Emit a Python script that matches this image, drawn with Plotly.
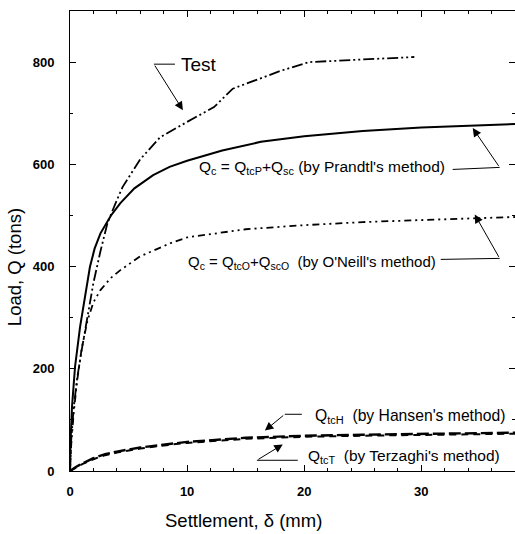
import plotly.graph_objects as go

# Load-settlement curves (settlement in mm, load in tons)
test_x = [0, 0.1, 0.3, 0.6, 1.0, 1.5, 2.0, 2.6, 3.2, 4.0, 4.5, 6.0, 7.7, 10, 12.3, 13.9, 16.3, 18, 20.4, 25, 29.4]
test_q = [0, 60, 120, 180, 237, 305, 368, 430, 485, 530, 556, 610, 653, 683, 712, 748, 768, 783, 800, 805, 810]

prandtl_x = [0, 0.05, 0.17, 0.43, 0.86, 1.3, 1.7, 2.1, 2.6, 3.5, 4.3, 5.5, 7.1, 8.5, 10, 13, 16.3, 20, 25, 30, 38]
prandtl_q = [0, 60, 125, 204, 282, 345, 399, 435, 465, 500, 524, 553, 579, 595, 607, 627, 644, 655, 665, 672, 679]

oneill_x = [0, 0.1, 0.3, 0.6, 1.0, 1.5, 2.0, 2.6, 3.5, 4.3, 6, 8.6, 10, 15, 20, 25, 30, 38]
oneill_q = [0, 50, 110, 175, 240, 295, 330, 354, 378, 393, 420, 446, 457, 473, 481, 487, 491, 497]

hansen_x = [0, 0.5, 1, 2, 3, 4, 6, 8, 10, 15, 20, 25, 30, 38]
hansen_q = [0, 8, 14, 25, 33, 38, 46, 52, 57, 65, 69, 71, 73, 75]

terzaghi_x = [0, 0.5, 1, 2, 3, 4, 6, 8, 10, 15, 20, 25, 30, 38]
terzaghi_q = [0, 7, 13, 23, 31, 36, 44, 50, 55, 63, 67, 69, 71, 73]

x_ticks = [0, 10, 20, 30]
y_ticks = [0, 200, 400, 600, 800]

FONT = "Liberation Sans, Arial, sans-serif"
INK = "black"

fig = go.Figure()

def curve(x, y, dash, width):
    fig.add_trace(go.Scatter(x=x, y=y, mode="lines",
                             line=dict(color=INK, width=width, dash=dash),
                             showlegend=False, hoverinfo="skip"))

curve(test_x, test_q, "11px,3px,2px,3px,2px,3px", 1.8)
curve(prandtl_x, prandtl_q, "solid", 2.0)
curve(oneill_x, oneill_q, "7px,4px,2px,4px,2px,4px", 1.8)
curve(hansen_x, hansen_q, "12px,4px", 2.4)
curve(terzaghi_x, terzaghi_q, "7px,5px", 2.0)

# invisible trace carrying the right-hand tick axis
fig.add_trace(go.Scatter(x=[0], y=[0], yaxis="y2", mode="markers",
                         marker=dict(opacity=0), showlegend=False, hoverinfo="skip"))

# leader lines from labels to curves
leaders = [
    [(8.96, 796), (7.17, 796)],
    [(32.68, 590), (36.69, 594)],
    [(31.66, 414), (36.69, 416)],
    [(19.8, 111), (18.34, 111)],
    [(19.45, 21), (15.96, 21)],
]
for pts in leaders:
    path = "M " + " L ".join(f"{px},{py}" for px, py in pts)
    fig.add_shape(type="path", path=path, xref="x", yref="y",
                  line=dict(color=INK, width=1))

# arrows: (tip x, tip y, tail x, tail y)
arrows = [
    (9.64, 706, 7.17, 796),
    (34.39, 671, 36.69, 594),
    (34.56, 502, 36.69, 416),
    (16.64, 79, 18.34, 111),
    (18.17, 52, 15.96, 21),
]
for tx, ty, sx, sy in arrows:
    fig.add_annotation(x=tx, y=ty, ax=sx, ay=sy, xref="x", yref="y",
                       axref="x", ayref="y", text="", showarrow=True,
                       arrowhead=2, arrowsize=1.7, arrowwidth=1, arrowcolor=INK)

labels = [
    (9.35, 795, "Test", 19),
    (10.84, 594, "Q<sub>c</sub> = Q<sub>tcP</sub>+Q<sub>sc</sub> (by Prandtl's method)", 15.5),
    (9.9, 408, "Q<sub>c</sub> = Q<sub>tcO</sub>+Q<sub>scO</sub>  (by O'Neill's method)", 15),
    (20.73, 107, "Q<sub>tcH</sub>  (by Hansen's method)", 15.7),
    (20.14, 28, "Q<sub>tcT</sub>  (by Terzaghi's method)", 15.5),
]
for lx, ly, txt, size in labels:
    fig.add_annotation(x=lx, y=ly, xref="x", yref="y", text=txt, showarrow=False,
                       xanchor="left", yanchor="middle",
                       font=dict(family=FONT, size=size, color=INK))

# axis titles
fig.add_annotation(x=0.389, y=-0.108, xref="paper", yref="paper",
                   text="Settlement, δ (mm)", showarrow=False,
                   xanchor="center", yanchor="middle",
                   font=dict(family=FONT, size=18.5, color=INK))
fig.add_annotation(x=-0.126, y=0.443, xref="paper", yref="paper",
                   text="Load, Q (tons)", showarrow=False, textangle=-90,
                   xanchor="center", yanchor="middle",
                   font=dict(family=FONT, size=18.5, color=INK))

fig.update_layout(
    width=515, height=534,
    margin=dict(l=70, r=0, t=11, b=63),
    paper_bgcolor="white", plot_bgcolor="white",
    font=dict(family=FONT, size=12, color=INK),
    xaxis=dict(range=[0, 38], tickmode="array", tickvals=x_ticks,
               showgrid=False, zeroline=False, showline=True, linecolor=INK,
               linewidth=1, mirror="ticks", ticks="inside", ticklen=6,
               tickcolor=INK, ticklabelstandoff=8,
               minor=dict(dtick=2, ticks="inside", ticklen=3, tickcolor=INK),
               tickfont=dict(family=FONT, size=13, color=INK, weight="bold")),
    yaxis=dict(range=[0, 900], tickmode="array", tickvals=y_ticks,
               showgrid=False, zeroline=False, showline=True, linecolor=INK,
               linewidth=1, mirror=False, ticks="inside", ticklen=6,
               tickcolor=INK, ticklabelstandoff=12,
               minor=dict(dtick=100, ticks="inside", ticklen=3, tickcolor=INK),
               tickfont=dict(family=FONT, size=13, color=INK, weight="bold")),
    yaxis2=dict(range=[0, 900], overlaying="y", side="right", matches="y",
                showgrid=False, zeroline=False, showline=False,
                showticklabels=False, ticks="inside", ticklen=6, tickcolor=INK,
                tickmode="array", tickvals=y_ticks,
                minor=dict(dtick=100, ticks="inside", ticklen=3, tickcolor=INK)),
)

fig.write_html("out.html")
